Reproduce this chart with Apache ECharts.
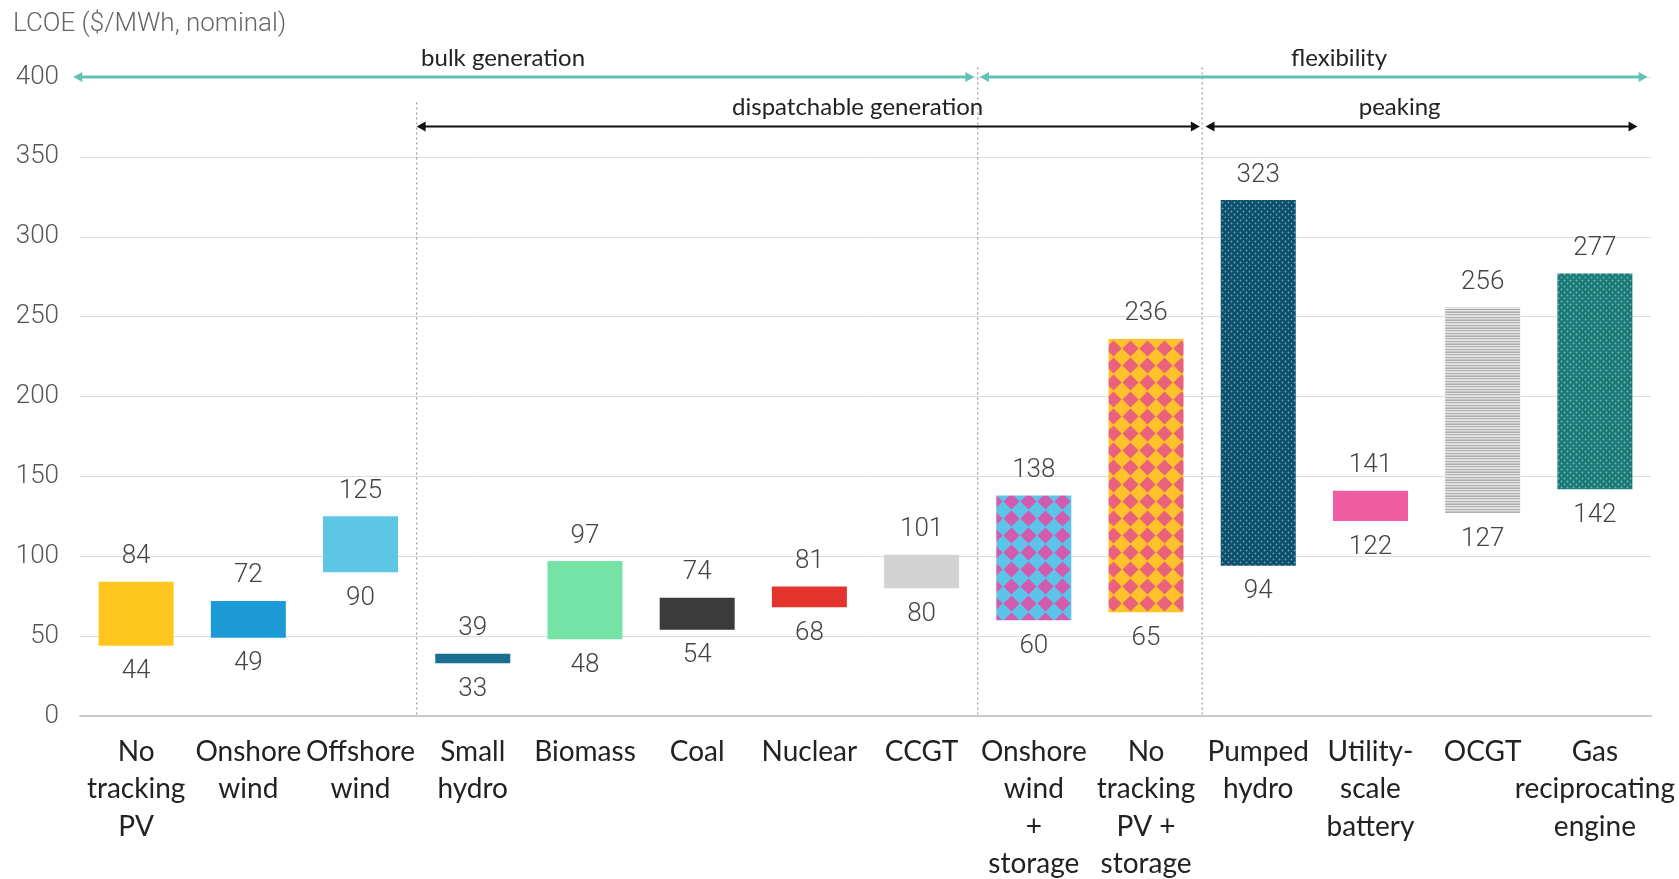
<!DOCTYPE html>
<html>
<head>
<meta charset="utf-8">
<title>LCOE by technology</title>
<script src="https://cdn.jsdelivr.net/npm/echarts@6/dist/echarts.min.js"></script>
<style>
  html, body { margin: 0; padding: 0; background: #fff; }
  #chart { width: 1679px; height: 879px; }
</style>
</head>
<body>
<div id="chart"></div>
<script>
// ---- data ----
const categories = [
  'No\ntracking\nPV', 'Onshore\nwind', 'Offshore\nwind', 'Small\nhydro', 'Biomass', 'Coal',
  'Nuclear', 'CCGT', 'Onshore\nwind\n+\nstorage', 'No\ntracking\nPV +\nstorage', 'Pumped\nhydro',
  'Utility-\nscale\nbattery', 'OCGT', 'Gas\nreciprocating\nengine'
];
const lowValues  = [44, 49, 90, 33, 48, 54, 68, 80, 60, 65, 94, 122, 127, 142];
const highValues = [84, 72, 125, 39, 97, 74, 81, 101, 138, 236, 323, 141, 256, 277];
const yTicks = { min: 0, max: 400, interval: 50 };

// group brackets drawn above the bars (category-boundary units)
const spanNames = ['bulk generation', 'flexibility', 'dispatchable generation', 'peaking'];
const spanFrom  = [-0.06, 8.02, 3, 10.03];
const spanTo    = [7.97, 13.97, 9.98, 13.88];
const spanTier  = [0, 0, 1, 1];
const spanTextAt = [3.77, 11.22, 6.93, 11.76];
const dividerAt = [3, 8, 10];
const dividerTop = [384, 406, 406];

// ---- fills ----
function tile(w, h, draw) {
  const c = document.createElement('canvas');
  c.width = w; c.height = h;
  draw(c.getContext('2d'), w, h);
  return { image: c, repeat: 'repeat' };
}
function diamonds(bg, fg, s) {
  return tile(s, s, (g) => {
    g.fillStyle = bg; g.fillRect(0, 0, s, s);
    const h = s / 2, r = h * 0.95;
    g.fillStyle = fg;
    g.beginPath();
    g.moveTo(h, h - r); g.lineTo(h + r, h); g.lineTo(h, h + r); g.lineTo(h - r, h);
    g.closePath(); g.fill();
  });
}
function dots(bg, fg, s) {
  return tile(s, s, (g) => {
    g.fillStyle = bg; g.fillRect(0, 0, s, s);
    g.fillStyle = fg;
    [[s * 0.25, s * 0.25], [s * 0.75, s * 0.75]].forEach(([x, y]) => {
      g.beginPath(); g.arc(x, y, 0.9, 0, Math.PI * 2); g.fill();
    });
  });
}
function stripes(rows) {
  return tile(2, rows.length, (g) => {
    rows.forEach((col, i) => { g.fillStyle = col; g.fillRect(0, i, 2, 1); });
  });
}

const fills = [
  '#FFC61F', '#1B9AD6', '#5DC6E4', '#1A6F8E', '#74E3A5', '#3B3B3B', '#E4332C', '#D3D3D3',
  diamonds('#5CC4E8', '#D25BAE', 17),
  diamonds('#FFC22A', '#E9617A', 17),
  dots('#0C4D6B', 'rgba(120,185,205,0.85)', 6),
  '#EE5CA2',
  stripes(['#ADADAD', '#E6E6E6', '#B3B3B3', '#DCDCDC', '#EAEAEA', '#A9A9A9', '#E2E2E2', '#C4C4C4']),
  dots('#1B7A78', 'rgba(130,200,190,0.85)', 6)
];

const TEAL = '#63C1B4';
const valueFont = { fontFamily: 'Roboto', fontWeight: 300, fontSize: 26, color: '#444' };

function arrowHead(tip, dir, len, half, color) {
  return {
    type: 'polygon',
    shape: { points: [tip, [tip[0] - dir * len, tip[1] - half], [tip[0] - dir * len, tip[1] + half]] },
    style: { fill: color }
  };
}

const chart = echarts.init(document.getElementById('chart'));
chart.setOption({
  animation: false,
  title: {
    text: 'LCOE ($/MWh, nominal)',
    left: 8, top: 6,
    textStyle: { fontFamily: 'Roboto', fontWeight: 300, fontSize: 26, color: '#666' }
  },
  grid: { left: 80, right: 28, top: 77, bottom: 163, outerBoundsMode: 'none', containLabel: false },
  xAxis: [{
    type: 'category',
    data: categories,
    axisLine: { lineStyle: { color: '#C9C9C9', width: 2 } },
    axisTick: { length: 9, lineStyle: { color: '#C4C4C4', width: 1.5 } },
    axisLabel: {
      interval: 0, margin: 17, fontFamily: 'Lato', fontSize: 28, lineHeight: 37.5, color: '#222'
    }
  }, {
    type: 'value', min: 0, max: 14, show: false
  }],
  yAxis: {
    type: 'value',
    min: yTicks.min, max: yTicks.max, interval: yTicks.interval,
    axisLine: { show: false },
    axisTick: { show: false },
    axisLabel: { margin: 21, fontFamily: 'Roboto', fontWeight: 300, fontSize: 26, color: '#555' },
    splitLine: { lineStyle: { color: '#DCDCDC', width: 1 } }
  },
  series: [
    {
      name: 'low',
      type: 'bar',
      stack: 'range',
      barWidth: 75,
      silent: true,
      itemStyle: { color: 'rgba(0,0,0,0)' },
      emphasis: { disabled: true },
      label: {
        show: true, position: 'insideTop', distance: 13, ...valueFont,
        formatter: (p) => String(lowValues[p.dataIndex])
      },
      data: lowValues
    },
    {
      name: 'range',
      type: 'bar',
      stack: 'range',
      barWidth: 75,
      silent: true,
      emphasis: { disabled: true },
      label: {
        show: true, position: 'top', distance: 12, ...valueFont,
        formatter: (p) => String(highValues[p.dataIndex])
      },
      data: highValues.map((h, i) => ({
        value: h - lowValues[i],
        itemStyle: { color: fills[i] }
      }))
    },
    {
      name: 'dividers',
      type: 'custom',
      xAxisIndex: 1,
      yAxisIndex: 0,
      silent: true,
      clip: false,
      z: 1,
      data: dividerAt.map((x, i) => [x, dividerTop[i]]),
      renderItem: (params, api) => {
        const top = api.coord([api.value(0), api.value(1)]);
        const bottom = api.coord([api.value(0), 0]);
        return {
          type: 'line',
          shape: { x1: top[0], y1: top[1], x2: bottom[0], y2: bottom[1] },
          style: { stroke: '#9A9A9A', lineWidth: 1.2, lineDash: [2, 3] }
        };
      }
    },
    {
      name: 'spans',
      type: 'custom',
      xAxisIndex: 1,
      yAxisIndex: 0,
      silent: true,
      clip: false,
      z: 5,
      data: spanNames.map((n, i) => [spanFrom[i], spanTo[i], spanTier[i], spanTextAt[i]]),
      renderItem: (params, api) => {
        const tier = api.value(2);
        const level = tier === 0 ? 400 : 369;
        const color = tier === 0 ? TEAL : '#111';
        const lw = tier === 0 ? 3 : 2;
        const a = api.coord([api.value(0), level]);
        const b = api.coord([api.value(1), level]);
        const t = api.coord([api.value(3), level]);
        return {
          type: 'group',
          children: [
            {
              type: 'line',
              shape: { x1: a[0] + 6, y1: a[1], x2: b[0] - 6, y2: b[1] },
              style: { stroke: color, lineWidth: lw }
            },
            arrowHead(a, -1, 9, 5, color),
            arrowHead(b, 1, 9, 5, color),
            {
              type: 'text',
              x: t[0], y: t[1] - 19,
              style: {
                text: spanNames[params.dataIndex],
                fontFamily: 'Lato', fontSize: 24, fill: '#222',
                align: 'center', verticalAlign: 'middle'
              }
            }
          ]
        };
      }
    }
  ]
});
</script>
</body>
</html>
